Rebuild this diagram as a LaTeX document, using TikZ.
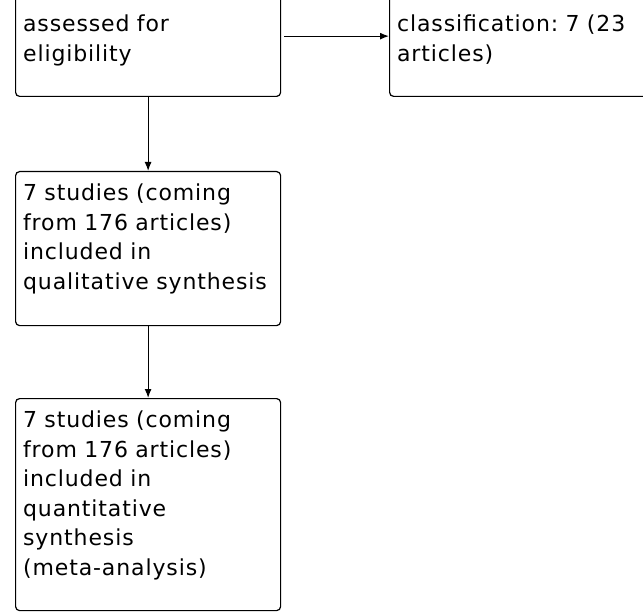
\documentclass[tikz,border=0pt]{standalone}
\usepackage{fontspec}
\setmainfont{DejaVu Sans}[LetterSpace=4]
\frenchspacing
\usepackage{tikz}
\usetikzlibrary{arrows.meta}
\usetikzlibrary{positioning}
\tikzset{stage/.style = {draw, rounded corners=4bp, line width=1.2bp,
                         align=left, text width=250bp,
                         inner xsep=7.5bp, inner ysep=12bp, text height=17bp,
                         font=\fontsize{22bp}{29.5bp}\selectfont}}

\begin{document}
\begin{tikzpicture}[x=1bp, y=-1bp, >={Latex[length=9bp,width=7bp]}, line width=1.2bp]
    \useasboundingbox (0, 0) rectangle (643, 613);
    \clip (0, 0) rectangle (643, 613);

    \node [stage, anchor=south west, text height=44bp, text depth=52.5bp] (eligible) at (15, 97) {assessed for\\eligibility};
    \node [stage, anchor=south west, text height=44bp, text depth=52.5bp, text width=300bp] (excluded) at (389, 97) {classification: 7 (23\\articles)};
    \node [stage, anchor=north west, text depth=113bp] (qualitative) at (15, 171) {7 studies (coming\\from 176 articles)\\included in\\qualitative synthesis};
    \node [stage, anchor=north west, text depth=171bp] (quantitative) at (15, 398) {7 studies (coming\\from 176 articles)\\included in\\quantitative\\synthesis\\(meta-analysis)};

    \draw [->, shorten <=3bp] (eligible) -- (excluded);
    \draw [->] (eligible) -- (qualitative);
    \draw [->] (qualitative) -- (quantitative);
\end{tikzpicture}
\end{document}
